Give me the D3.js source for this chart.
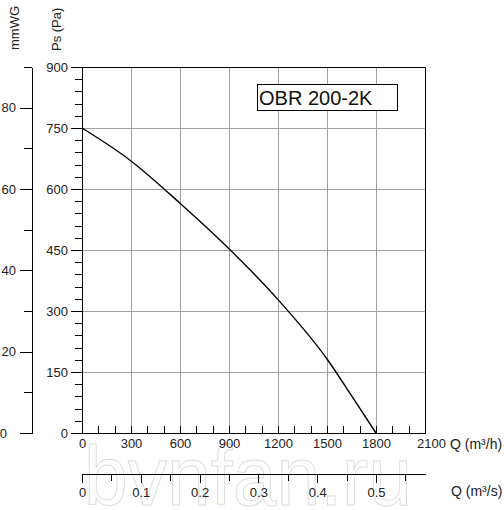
<!DOCTYPE html>
<html>
<head>
<meta charset="utf-8">
<script src="https://cdn.jsdelivr.net/npm/d3@7"></script>
<style>
  body { margin: 0; background: #fff; }
  svg { display: block; font-family: "Liberation Sans", Arial, sans-serif; }
  .axis text { font-size: 13px; fill: #222; }
  .axis line, .axis path { stroke: #000; shape-rendering: crispEdges; }
</style>
</head>
<body>
<div id="chart"></div>
<script>
// fan curve OBR 200-2K
const flowM3h = [0, 300, 600, 900, 1200, 1500, 1650, 1800];
const pressurePa = [750, 669, 565, 453, 328, 182, 92, 0];

const qTicksMajor = [0, 300, 600, 900, 1200, 1500, 1800, 2100];
const qTicksMinor = d3.range(0, 2101, 100);
const paTicksMajor = [0, 150, 300, 450, 600, 750, 900];
const paTicksMinor = d3.range(0, 901, 30);
const mmTicksMajor = [0, 20, 40, 60, 80];
const mmTicksMinor = [10, 30, 50, 70, 90];
const qsTicksMajor = [0, 0.1, 0.2, 0.3, 0.4, 0.5];
const qsTicksMinor = [0.05, 0.15, 0.25, 0.35, 0.45, 0.55];

const modelName = "OBR 200-2K";

const width = 504, height = 510;
const plotLeft = 82, plotRight = 425, plotTop = 67, plotBottom = 433;

const svg = d3.select("#chart").append("svg")
    .attr("width", width)
    .attr("height", height);

// watermark
svg.append("text")
    .attr("x", 84)
    .attr("y", 505)
    .attr("textLength", 328)
    .attr("lengthAdjust", "spacingAndGlyphs")
    .style("font-size", "84px")
    .style("fill", "none")
    .style("stroke", "#dcdcdc")
    .style("stroke-width", 1)
    .text("bvnfan.ru");

const x = d3.scaleLinear().domain([0, 2100]).range([plotLeft, plotRight]);
const y = d3.scaleLinear().domain([0, 900]).range([plotBottom, plotTop]);
const yMm = d3.scaleLinear().domain([0, 90]).range([plotBottom, plotTop]);
const xS = d3.scaleLinear().domain([0, 2100 / 3600]).range([plotLeft, plotRight]);

// grid
svg.append("g").selectAll("line")
    .data(qTicksMajor.slice(1, -1))
    .enter().append("line")
    .attr("x1", d => x(d)).attr("x2", d => x(d))
    .attr("y1", plotTop).attr("y2", plotBottom)
    .style("stroke", "#a0a0a0")
    .style("shape-rendering", "crispEdges");

svg.append("g").selectAll("line")
    .data(paTicksMajor.slice(1, -1))
    .enter().append("line")
    .attr("x1", plotLeft).attr("x2", plotRight)
    .attr("y1", d => y(d)).attr("y2", d => y(d))
    .style("stroke", "#a0a0a0")
    .style("shape-rendering", "crispEdges");

// frame top / right
svg.append("path")
    .attr("d", `M${plotLeft},${plotTop}H${plotRight}V${plotBottom}`)
    .style("fill", "none")
    .style("stroke", "#000")
    .style("shape-rendering", "crispEdges");

// curve
const line = d3.line()
    .x(d => x(d[0]))
    .y(d => y(d[1]))
    .curve(d3.curveMonotoneX);

svg.append("path")
    .datum(flowM3h.map((q, i) => [q, pressurePa[i]]))
    .attr("d", line)
    .style("fill", "none")
    .style("stroke", "#000")
    .style("stroke-width", 1.4);

// Pa axis
svg.append("g")
    .attr("class", "axis")
    .attr("transform", `translate(${plotLeft},0)`)
    .call(d3.axisLeft(y).tickValues(paTicksMinor).tickSize(7.5).tickSizeOuter(0).tickFormat(""));
svg.append("g")
    .attr("class", "axis")
    .attr("transform", `translate(${plotLeft},0)`)
    .call(d3.axisLeft(y).tickValues(paTicksMajor).tickSize(11).tickSizeOuter(0).tickPadding(3));

// mmWG axis
svg.append("g")
    .attr("class", "axis")
    .attr("transform", "translate(32,0)")
    .call(d3.axisLeft(yMm).tickValues(mmTicksMinor).tickSize(8).tickSizeOuter(0).tickFormat(""));
const mmAxis = svg.append("g")
    .attr("class", "axis")
    .attr("transform", "translate(32,0)")
    .call(d3.axisLeft(yMm).tickValues(mmTicksMajor).tickSize(12).tickSizeOuter(0).tickPadding(4));
mmAxis.selectAll(".tick text").filter(d => d === 0).attr("x", -25);

// m3/h axis, ticks pointing up
const qAxis = svg.append("g")
    .attr("class", "axis")
    .attr("transform", `translate(0,${plotBottom})`)
    .call(d3.axisBottom(x).tickValues(qTicksMinor).tickSize(-7).tickSizeOuter(0)
        .tickPadding(6).tickFormat(d => d % 300 === 0 ? d : ""));
qAxis.selectAll(".tick text").filter(d => d === 2100).attr("dx", 6);

// m3/s axis
const yS = 474;
svg.append("g")
    .attr("class", "axis")
    .attr("transform", `translate(0,${yS})`)
    .call(d3.axisBottom(xS).tickValues(qsTicksMinor).tickSize(7).tickSizeOuter(0).tickFormat(""));
svg.append("g")
    .attr("class", "axis")
    .attr("transform", `translate(0,${yS})`)
    .call(d3.axisBottom(xS).tickValues(qsTicksMajor).tickSize(9).tickSizeOuter(0)
        .tickPadding(5).tickFormat(d => d === 0 ? "0" : d3.format(".1f")(d)));

// axis titles
const titleStyle = s => s.style("font-size", "13px").style("fill", "#222");
svg.append("text").attr("x", 450).attr("y", 449).text("Q (m³/h)")
    .call(titleStyle).style("font-size", "14px");
svg.append("text").attr("x", 451).attr("y", 496).text("Q (m³/s)")
    .call(titleStyle).style("font-size", "14px");
svg.append("text")
    .attr("transform", "translate(19,50) rotate(-90)")
    .text("mmWG").call(titleStyle);
svg.append("text")
    .attr("transform", "translate(61,51) rotate(-90)")
    .text("Ps (Pa)").call(titleStyle);

// model label
const box = svg.append("g").attr("transform", "translate(257,84)");
box.append("rect")
    .attr("width", 140).attr("height", 26)
    .style("fill", "#fff").style("stroke", "#000")
    .style("shape-rendering", "crispEdges");
box.append("text")
    .attr("x", 2).attr("y", 21)
    .style("font-size", "20px")
    .style("fill", "#111")
    .text(modelName);
</script>
</body>
</html>
